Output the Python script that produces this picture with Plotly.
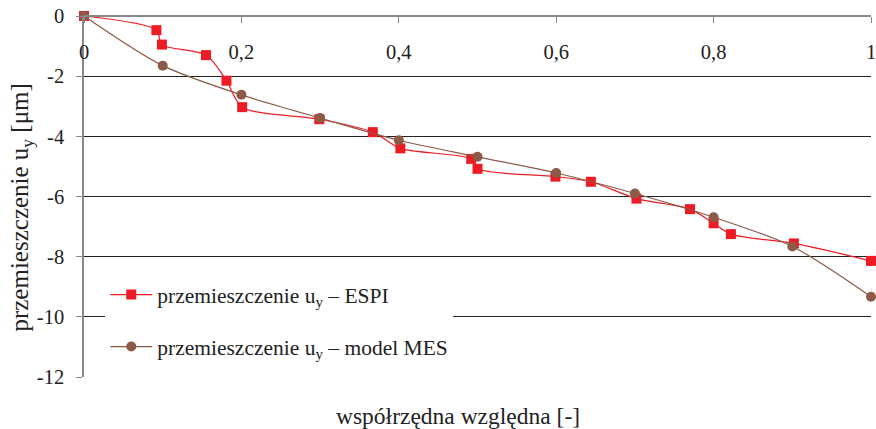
import plotly.graph_objects as go

# ---- data ----
espi_x = [0, 0.092, 0.099, 0.155, 0.181, 0.201, 0.299, 0.367, 0.402, 0.492, 0.500,
          0.599, 0.644, 0.702, 0.770, 0.800, 0.822, 0.902, 1.0]
espi_y = [0, -0.47, -0.95, -1.30, -2.15, -3.03, -3.43, -3.86, -4.40, -4.75, -5.08,
          -5.34, -5.51, -6.07, -6.42, -6.89, -7.25, -7.56, -8.14]

mes_x = [0, 0.1, 0.2, 0.3, 0.4, 0.5, 0.6, 0.7, 0.8, 0.9, 1.0]
mes_y = [0, -1.65, -2.62, -3.39, -4.13, -4.68, -5.22, -5.90, -6.69, -7.66, -9.33]

x_tickvals = [0, 0.2, 0.4, 0.6, 0.8, 1.0]
x_ticktext = ["0", "0,2", "0,4", "0,6", "0,8", "1"]
y_tickvals = [0, -2, -4, -6, -8, -10, -12]
y_ticktext = ["0", "-2", "-4", "-6", "-8", "-10", "-12"]

FONT = "Liberation Serif, Times New Roman, serif"
RED = "#ED1C24"
BROWN = "#8C5A46"
TXT = "#222"

fig = go.Figure()
fig.add_trace(go.Scatter(
    x=espi_x, y=espi_y, mode="lines+markers",
    name="przemieszczenie u<sub>y</sub> – ESPI",
    line=dict(color=RED, width=1.2, shape="spline", smoothing=0.8),
    marker=dict(symbol="square", size=10, color=RED),
    cliponaxis=False, legendgroup="a"))
fig.add_trace(go.Scatter(
    x=mes_x, y=mes_y, mode="lines+markers",
    name="przemieszczenie u<sub>y</sub> – model MES",
    line=dict(color=BROWN, width=1.2, shape="spline", smoothing=0.8),
    marker=dict(symbol="circle", size=10, color=BROWN),
    cliponaxis=False, legendgroup="b"))

fig.update_layout(
    width=876, height=429,
    margin=dict(l=84, r=5, t=16, b=52, autoexpand=False),
    paper_bgcolor="white", plot_bgcolor="white",
    font=dict(family=FONT, size=20, color=TXT),
    showlegend=True,
    legend=dict(
        x=0.027, y=0.285, xanchor="left", yanchor="top",
        bgcolor="white", borderwidth=0,
        traceorder="grouped", tracegroupgap=21,
        itemwidth=42,
        font=dict(family=FONT, size=21.5, color=TXT),
        entrywidth=333,
    ),
    xaxis=dict(
        range=[0, 1], anchor="free", position=1, side="bottom",
        tickvals=x_tickvals, ticktext=x_ticktext,
        showgrid=False, zeroline=False, automargin=False,
        showline=True, linecolor="#888", linewidth=1.5,
        ticks="outside", ticklen=6, tickcolor="#888",
        ticklabelstandoff=12, ticklabeloverflow="allow",
        tickfont=dict(family=FONT, size=20.5, color=TXT),
    ),
    yaxis=dict(
        range=[-12, 0],
        tickvals=y_tickvals, ticktext=y_ticktext,
        showgrid=True, gridcolor="#222", gridwidth=1,
        zeroline=False, automargin=False,
        showline=True, linecolor="#888", linewidth=1.5,
        ticks="outside", ticklen=6, tickcolor="#888",
        ticklabelstandoff=8, ticklabeloverflow="allow",
        tickfont=dict(family=FONT, size=20.5, color=TXT),
    ),
    annotations=[
        dict(text="przemieszczenie u<sub>y</sub> [μm]", xref="paper", yref="paper",
             x=-0.08, y=0.4695, xanchor="center", yanchor="middle", textangle=-90,
             showarrow=False, font=dict(family=FONT, size=25, color=TXT)),
        dict(text="współrzędna względna [-]", xref="paper", yref="paper",
             x=0.475, y=-0.108, xanchor="center", yanchor="middle",
             showarrow=False, font=dict(family=FONT, size=23.5, color=TXT)),
    ],
)

fig.write_html("out.html", config={"displayModeBar": False},
               post_script="document.body.style.margin='0';document.body.style.overflow='hidden';")
